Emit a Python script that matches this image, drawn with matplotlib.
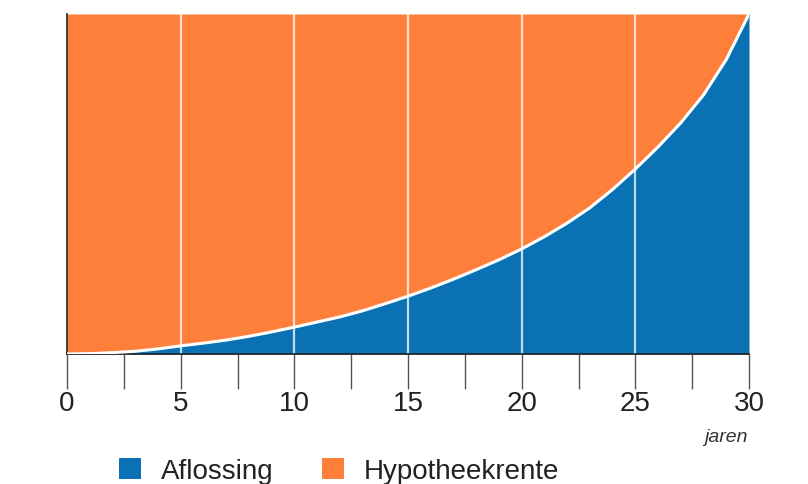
import matplotlib.pyplot as plt
from matplotlib.patches import Patch
from matplotlib.ticker import MultipleLocator
import numpy as np

jaren = list(range(0, 31))
aflossing = [0.000, 0.001, 0.004, 0.008, 0.015, 0.024, 0.032, 0.041, 0.052, 0.065,
             0.079, 0.094, 0.109, 0.127, 0.148, 0.170, 0.194, 0.220, 0.248, 0.277,
             0.309, 0.345, 0.385, 0.430, 0.484, 0.544, 0.609, 0.680, 0.762, 0.866,
             1.000]
tick_labels = ['0', '5', '10', '15', '20', '25', '30']
legend_labels = ['Aflossing', 'Hypotheekrente']

BLUE = '#0a72b4'
ORANGE = '#fd7f3a'

plt.rcParams['font.family'] = ['Liberation Sans', 'DejaVu Sans']

fig = plt.figure(figsize=(8.08, 4.85), dpi=100)
ax = fig.add_axes([67 / 808, 1 - 355 / 485, 682 / 808, 340 / 485])

x = np.array(jaren)
y = np.array(aflossing)
ax.fill_between(x, 0, y, color=BLUE, lw=0)
ax.fill_between(x, y, 1, color=ORANGE, lw=0)

# lichte verticale hulplijnen
for v in range(5, 30, 5):
    ax.axvline(v, color='white', alpha=0.75, lw=1.6, zorder=2)
ax.plot(x, y, color='white', lw=2.2, zorder=3, solid_joinstyle='round')

ax.set_xlim(0, 30)
ax.set_ylim(0, 1)
ax.set_yticks([])
ax.xaxis.set_minor_locator(MultipleLocator(2.5))
ax.set_xticks(range(0, 31, 5))
ax.set_xticklabels(tick_labels)
ax.tick_params(axis='x', which='both', length=25, width=1, color='#555555',
               labelsize=20, pad=1, labelcolor='#222222')

for side in ['top', 'right']:
    ax.spines[side].set_visible(False)
for side in ['left', 'bottom']:
    ax.spines[side].set_color('#222222')
    ax.spines[side].set_linewidth(1.2)

fig.text(748 / 808, 1 - 438 / 485, 'jaren', ha='right', va='center',
         fontsize=14, style='italic', color='#333333')

handles = [Patch(facecolor=BLUE), Patch(facecolor=ORANGE)]
fig.legend(handles, legend_labels, ncol=2, frameon=False, fontsize=20,
           loc='lower left', bbox_to_anchor=(94 / 808, -0.052),
           handlelength=0.8, handleheight=0.8, handletextpad=0.7,
           columnspacing=1.75, labelcolor='#222222')

fig.savefig('out.png', dpi=100, facecolor='white')
